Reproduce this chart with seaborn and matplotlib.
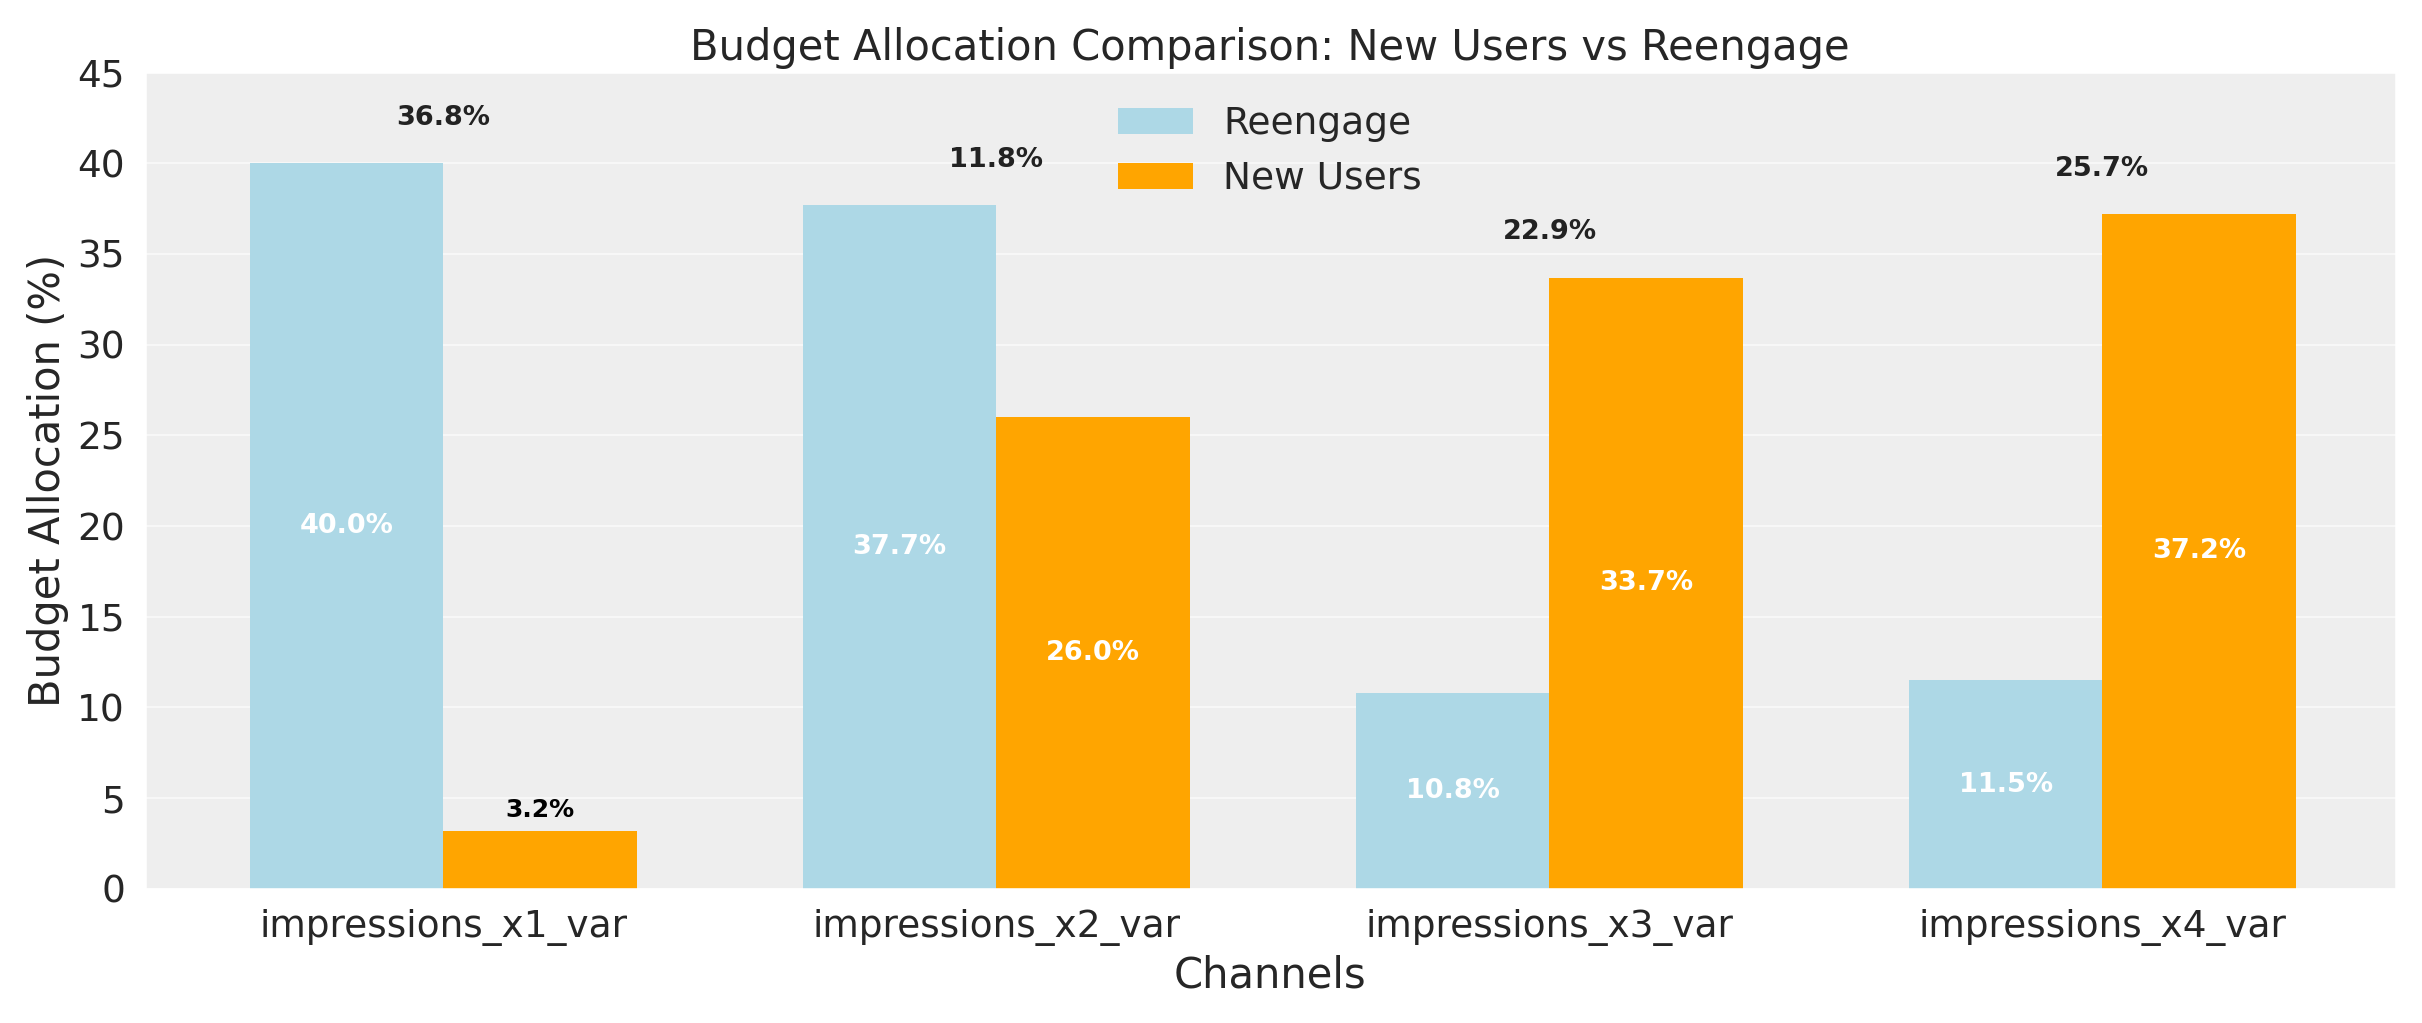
import pandas as pd
import numpy as np
import matplotlib
matplotlib.use('Agg')
import matplotlib.pyplot as plt
import seaborn as sns

channels = ['impressions_x1_var', 'impressions_x2_var', 'impressions_x3_var', 'impressions_x4_var']
reengage = [40.0, 37.7, 10.8, 11.5]
new_users = [3.2, 26.0, 33.7, 37.2]
diffs = [36.8, 11.8, 22.9, 25.7]

df = pd.DataFrame({
    'Channel': channels * 2,
    'Group': ['Reengage'] * 4 + ['New Users'] * 4,
    'Value': reengage + new_users,
})

sns.set_theme(style='darkgrid', rc={'axes.facecolor': '#eeeeee', 'grid.color': '#f7f7f7',
                                    'axes.edgecolor': 'white'})
plt.rcParams['font.family'] = ['DejaVu Sans']

fig, ax = plt.subplots(figsize=(16.15, 6.82), dpi=150)
sns.barplot(data=df, x='Channel', y='Value', hue='Group', hue_order=['Reengage', 'New Users'],
            palette=['lightblue', 'orange'], width=0.7, saturation=1, linewidth=0, ax=ax)

for cont in ax.containers:
    for bar in cont:
        h = bar.get_height()
        cx = bar.get_x() + bar.get_width() / 2
        if h < 5:
            ax.text(cx, h + 0.5, f'{h:.1f}%', ha='center', va='bottom', fontsize=12,
                    fontweight='bold', color='black')
        else:
            ax.text(cx, h / 2, f'{h:.1f}%', ha='center', va='center', fontsize=13,
                    fontweight='bold', color='white')

for i, (r, n, d) in enumerate(zip(reengage, new_users, diffs)):
    ax.text(i, max(r, n) + 2.5, f'{d:.1f}%', ha='center', va='center',
            fontsize=13, fontweight='bold', color='#222222')

ax.set_ylim(0, 45)
ax.set_xlim(-0.54, 3.53)
ax.set_yticks(range(0, 46, 5))
ax.set_title('Budget Allocation Comparison: New Users vs Reengage', fontsize=20)
ax.set_xlabel('Channels', fontsize=20)
ax.set_ylabel('Budget Allocation (%)', fontsize=20)
ax.tick_params(axis='both', labelsize=18)
ax.legend(title=None, loc='upper center', fontsize=18, frameon=False)

plt.tight_layout()
plt.savefig('out.png', dpi=150)
